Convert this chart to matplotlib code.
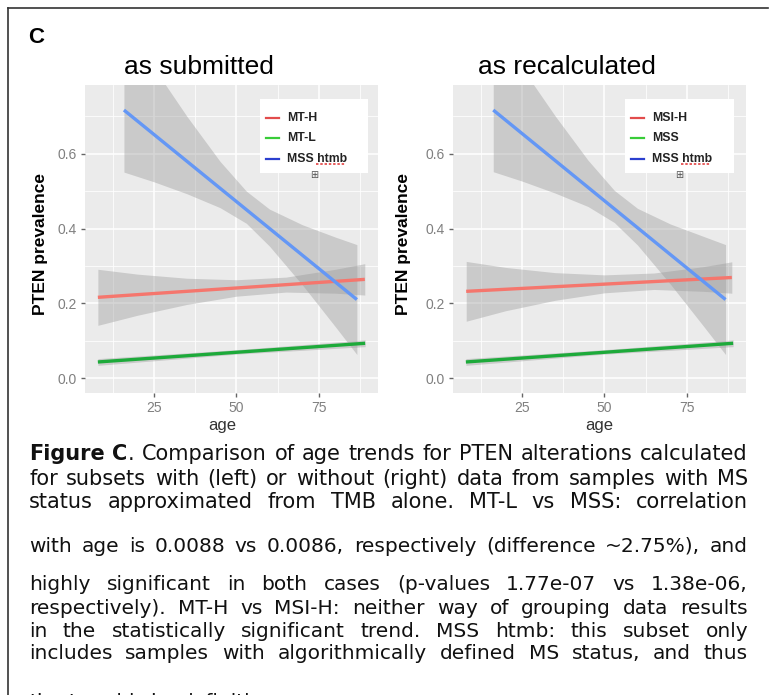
import matplotlib
matplotlib.use("Agg")
import matplotlib.pyplot as plt
from matplotlib.lines import Line2D

W, H = 770, 695

# fitted trend lines (age endpoints, prevalence endpoints)
left_lines = {
    "red": ([8.0, 88.9], [0.216, 0.264]),
    "green": ([8.0, 89.0], [0.043, 0.093]),
    "blue": ([15.9, 86.5], [0.717, 0.210]),
}
right_lines = {
    "red": ([8.1, 88.6], [0.232, 0.269]),
    "green": ([8.0, 89.0], [0.043, 0.093]),
    "blue": ([16.3, 86.7], [0.717, 0.210]),
}

# confidence ribbons: ages, lower, upper
left_bands = {
    "red": ([8, 20, 35, 50, 65, 80, 88.9],
            [0.141, 0.168, 0.197, 0.219, 0.230, 0.227, 0.222],
            [0.291, 0.278, 0.267, 0.263, 0.270, 0.291, 0.306]),
    "green": ([8, 50, 89], [0.034, 0.064, 0.084], [0.052, 0.076, 0.102]),
    "blue": ([15.9, 25, 35, 45, 53, 60, 70, 80, 86.5],
             [0.551, 0.525, 0.493, 0.456, 0.414, 0.353, 0.249, 0.137, 0.063],
             [0.950, 0.830, 0.700, 0.580, 0.500, 0.452, 0.410, 0.377, 0.357]),
}
right_bands = {
    "red": ([8.1, 20, 35, 50, 65, 80, 88.6],
            [0.152, 0.180, 0.208, 0.228, 0.237, 0.232, 0.227],
            [0.312, 0.296, 0.282, 0.276, 0.281, 0.298, 0.311]),
    "green": ([8, 50, 89], [0.034, 0.064, 0.084], [0.052, 0.076, 0.102]),
    "blue": ([16.3, 25, 35, 45, 53, 60, 70, 80, 86.7],
             [0.552, 0.527, 0.495, 0.459, 0.416, 0.356, 0.251, 0.139, 0.063],
             [0.950, 0.830, 0.702, 0.583, 0.502, 0.454, 0.412, 0.379, 0.357]),
}

titles = ["as submitted", "as recalculated"]
legend_left = ["MT-H", "MT-L", "MSS htmb"]
legend_right = ["MSI-H", "MSS", "MSS htmb"]
x_ticks = [25, 50, 75]
y_ticks = [0.0, 0.2, 0.4, 0.6]

line_col = {"red": "#F5766D", "green": "#1DAA3A", "blue": "#6497F5"}
leg_col = {"red": "#E24C4C", "green": "#38CC38", "blue": "#2B3FCF"}
order = ["red", "green", "blue"]

caption = [
    "Figure C. Comparison of age trends for PTEN alterations calculated",
    "for subsets with (left) or without (right) data from samples with MS",
    "status approximated from TMB alone. MT-L vs MSS: correlation",
    "with age is 0.0088 vs 0.0086, respectively (difference ~2.75%), and",
    "highly significant in both cases (p-values 1.77e-07 vs 1.38e-06,",
    "respectively). MT-H vs MSI-H: neither way of grouping data results",
    "in the statistically significant trend.  MSS htmb: this subset only",
    "includes samples with algorithmically defined MS status, and thus",
    "the trend is by definition",
]
caption_base = [460, 485, 508, 552, 590, 614, 637, 659, 708]

fig = plt.figure(figsize=(W / 100, H / 100), dpi=100)
fig.patch.set_facecolor("white")


def fx(x):
    return x / W


def fy(y):
    return 1 - y / H


def panel(left_px, lines, bands, title, ylab_x, xlab_x, legend_names, leg_box):
    ax = fig.add_axes([fx(left_px), fy(393), 293 / W, 308 / H])
    ax.set_facecolor("#EBEBEB")
    for k in order:
        a, lo, hi = bands[k]
        ax.fill_between(a, lo, hi, color="#999999", alpha=0.4, lw=0)
    for k in order:
        a, v = lines[k]
        ax.plot(a, v, color=line_col[k], lw=2.4, solid_capstyle="butt")
    ax.set_xlim(4.1, 92.9)
    ax.set_ylim(-0.04, 0.784)
    ax.set_xticks(x_ticks)
    ax.set_yticks(y_ticks)
    ax.set_xticks([12.5, 37.5, 62.5, 87.5], minor=True)
    ax.set_yticks([0.1, 0.3, 0.5, 0.7], minor=True)
    ax.set_yticklabels(["%.1f" % t for t in y_ticks])
    ax.grid(which="major", color="white", lw=1.1)
    ax.grid(which="minor", color="white", lw=0.55)
    ax.set_axisbelow(True)
    for s in ax.spines.values():
        s.set_visible(False)
    ax.tick_params(which="major", length=3.2, width=1, color="#666666",
                   labelcolor="#808080", labelsize=10, pad=2.5)
    ax.tick_params(which="minor", length=0)
    for lab in ax.get_xticklabels() + ax.get_yticklabels():
        lab.set_family("Liberation Sans")

    fig.text(fx(left_px + 114), fy(74), title, ha="center", va="baseline",
             fontsize=19, family="Liberation Sans")
    fig.text(fx(ylab_x), fy(244), "PTEN prevalence", rotation=90, ha="center",
             va="center", fontsize=12.5, fontweight="bold", family="Liberation Sans")
    fig.text(fx(xlab_x), fy(430), "age", ha="center", va="baseline",
             fontsize=12, color="#333333", family="Liberation Sans")

    # pasted legend box
    bx0, by0, bx1, by1 = leg_box
    fig.patches.append(plt.Rectangle((fx(bx0), fy(by1)), (bx1 - bx0) / W,
                                     (by1 - by0) / H, transform=fig.transFigure,
                                     facecolor="white", edgecolor="none", zorder=3))
    for name, k, yy in zip(legend_names, order, [118, 138, 159]):
        fig.lines.append(Line2D([fx(bx0 + 6), fx(bx0 + 19)], [fy(yy), fy(yy)],
                                transform=fig.transFigure, color=leg_col[k],
                                lw=1.6, zorder=4))
        fig.text(fx(bx0 + 27), fy(yy), name, ha="left", va="center",
                 fontsize=8.8, fontweight="bold", color="#222222",
                 family="Liberation Sans", zorder=4)
    fig.lines.append(Line2D([fx(bx0 + 56), fx(bx0 + 85)], [fy(163.5), fy(163.5)],
                            transform=fig.transFigure, color="#E03030", lw=1.1,
                            ls=(0, (1.6, 1.2)), zorder=5))
    fig.text(fx(bx0 + 54), fy(175), "\u229e", ha="center", va="center",
             fontsize=7, color="#555555", family="DejaVu Sans", zorder=5)
    return ax


panel(85, left_lines, left_bands, titles[0], 40.5, 222, legend_left, (260, 99, 368, 173))
panel(453, right_lines, right_bands, titles[1], 404, 599, legend_right, (625, 99, 734, 173))

# panel letter and frame
fig.text(fx(28), fy(43), "C", ha="left", va="baseline", fontsize=16,
         fontweight="bold", family="Liberation Sans")
fig.lines.append(Line2D([fx(8), fx(768)], [fy(8), fy(8)], transform=fig.transFigure,
                        color="#333333", lw=1.2))
fig.lines.append(Line2D([fx(8), fx(8)], [fy(8), fy(H + 2)], transform=fig.transFigure,
                        color="#333333", lw=1.2))

# justified caption
renderer = fig.canvas.get_renderer()
X0, X1 = 29, 748


def place_line(text, base, size, justify=True):
    items = []
    for w in text.split():
        if w == "Figure":
            segs = [(w, "bold")]
        elif w == "C.":
            segs = [("C", "bold"), (".", "normal")]
        else:
            segs = [(w, "normal")]
        objs = [fig.text(0, fy(base), s, ha="left", va="baseline", fontsize=size,
                         fontweight=wt, family="DejaVu Sans", color="#111111")
                for s, wt in segs]
        items.append(objs)
    widths = [[o.get_window_extent(renderer).width for o in objs] for objs in items]
    total = sum(sum(w) for w in widths)
    gap = (X1 - X0 - total) / (len(items) - 1) if justify else size * 0.42
    x = X0
    for objs, ws in zip(items, widths):
        for o, w in zip(objs, ws):
            o.set_x(fx(x))
            x += w
        x += gap


for i, (txt, b) in enumerate(zip(caption, caption_base)):
    size = 15 if i < 3 else 14.5
    place_line(txt, b, size, justify=(i < len(caption) - 1))

fig.savefig("out.png", dpi=100)
